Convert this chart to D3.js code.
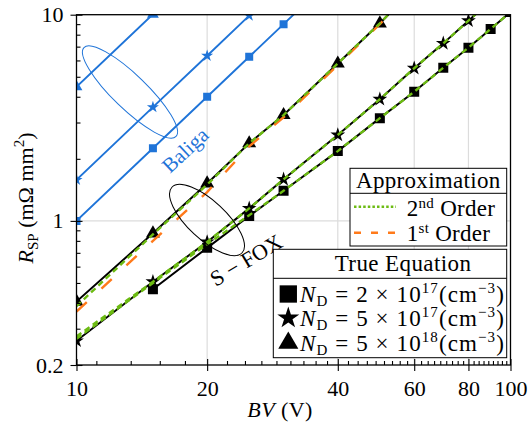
<!DOCTYPE html>
<html>
<head>
<meta charset="utf-8">
<script src="https://cdn.jsdelivr.net/npm/d3@7"></script>
<style>
body { margin: 0; background: #fff; }
text { font-family: "Liberation Serif", "Times New Roman", serif; }
</style>
</head>
<body>
<svg id="chart" width="529" height="431"></svg>
<script>
// breakdown voltage (V)
const bv = [10, 15, 20, 25, 30, 40, 50, 60, 70, 80, 90, 100];
const bvSq = [15, 20, 25, 30, 40, 50, 60, 70, 80, 90, 100];
// S-FOX, true equation (mOhm mm^2)
const true2e17 = [0.466, 0.74, 1.056, 1.40, 2.18, 3.15, 4.23, 5.53, 6.92, 8.52, 10.3];
const true5e17 = [0.262, 0.507, 0.79, 1.15, 1.59, 2.61, 3.89, 5.50, 7.26, 9.35, 11.7];
const true5e18 = [0.406, 0.87, 1.52, 2.38, 3.26, 5.80, 9.08, 13.5];
// 2nd order approximation
const ord2_2e17 = [0.268, 0.50, 0.77, 1.065, 1.40, 2.18, 3.15, 4.23, 5.53, 6.92, 8.52, 10.3];
const ord2_5e17 = [0.275, 0.507, 0.79, 1.15, 1.59, 2.61, 3.89, 5.50, 7.26, 9.35, 11.7];
const ord2_5e18 = [0.386, 0.86, 1.50, 2.38, 3.26, 5.80, 9.08, 13.5];
// 1st order approximation
const ord1_5e18 = [0.363, 0.80, 1.38, 2.30, 3.18, 5.70, 9.0, 13.4];
// Baliga
const bvBaliga = [10, 15, 20, 25, 30, 35];
const baliga2e17 = [1.0, 2.25, 4.0, 6.25, 9.0, 12.25];
const baliga5e17 = [1.58, 3.56, 6.32, 9.9, 14.2];
const baliga5e18 = [4.47, 10.05, 17.9];

const xMajor = [10, 20, 40, 60, 80, 100];
const xLabels = ['10', '20', '40', '60', '80', '100'];
const yMajor = [0.2, 1, 10];
const yLabels = ['0.2', '1', '10'];
const yMinor = [0.3, 0.4, 0.5, 0.6, 0.7, 0.8, 0.9, 2, 3, 4, 5, 6, 7, 8, 9];
const xGrid = [20, 40, 60, 80];
const yGrid = [1];
const ndMant = ['2', '5', '5'];
const ndExp = ['17', '17', '18'];

const xMinor = d3.range(-4, 37).map(k => 20 + k * 20 / 9)
  .filter(v => v > 10 && !xMajor.some(m => Math.abs(m - v) < 0.01));

const blue = '#1f74d8', green = '#6cbb12', orange = '#ff7a1a';

const svg = d3.select('#chart');
const x = d3.scaleLog().domain([10, 100]).range([76.5, 510.5]);
const y = d3.scaleLog().domain([0.2, 10]).range([365, 14.7]);

svg.append('defs').append('clipPath').attr('id', 'clip')
  .append('rect')
  .attr('x', x(10)).attr('y', y(10))
  .attr('width', x(100) - x(10)).attr('height', y(0.2) - y(10));

// grid
const grid = svg.append('g').attr('stroke', '#dcdcdc').attr('stroke-width', 1.2);
grid.selectAll('line.gx').data(xGrid).join('line').attr('class', 'gx')
  .attr('x1', d => x(d)).attr('x2', d => x(d))
  .attr('y1', y(0.2)).attr('y2', y(10));
grid.selectAll('line.gy').data(yGrid).join('line').attr('class', 'gy')
  .attr('x1', x(10)).attr('x2', x(100))
  .attr('y1', d => y(d)).attr('y2', d => y(d));

const plot = svg.append('g').attr('clip-path', 'url(#clip)');

function path(vals, xs, color, width, dash) {
  const line = d3.line().x((d, i) => x(xs[i])).y(d => y(d));
  plot.append('path').datum(vals)
    .attr('d', line)
    .attr('fill', 'none')
    .attr('stroke', color)
    .attr('stroke-width', width)
    .attr('stroke-dasharray', dash || null);
}
function marks(vals, xs, type, size, color) {
  plot.append('g').selectAll('path').data(vals).join('path')
    .attr('transform', (d, i) => `translate(${x(xs[i])},${y(d)})`)
    .attr('d', d3.symbol().type(type).size(size))
    .attr('fill', color);
}

// Baliga
path(baliga2e17, bvBaliga, blue, 1.9);
path(baliga5e17, bvBaliga, blue, 1.9);
path(baliga5e18, bvBaliga, blue, 1.9);
marks(baliga2e17, bvBaliga, d3.symbolSquare, 64, blue);
marks(baliga5e17, bvBaliga, d3.symbolStar, 45, blue);
marks(baliga5e18, bvBaliga, d3.symbolTriangle, 60, blue);

// true equation
path(true2e17, bvSq, '#000', 2);
path(true5e17, bv, '#000', 2);
path(true5e18, bv, '#000', 2);
marks(true2e17, bvSq, d3.symbolSquare, 100, '#000');
marks(true5e17, bv, d3.symbolStar, 68, '#000');
marks(true5e18, bv, d3.symbolTriangle, 85, '#000');

// approximations
path(ord1_5e18, bv, orange, 2.4, '14,20');
path(ord2_2e17, bv, green, 2.4, '6,4');
path(ord2_5e17, bv, green, 2.4, '6,4');
path(ord2_5e18, bv, green, 2.4, '6,4');

// annotations
svg.append('ellipse')
  .attr('transform', 'translate(130,92) rotate(44)')
  .attr('rx', 64).attr('ry', 17)
  .attr('fill', 'none').attr('stroke', blue).attr('stroke-width', 1);
svg.append('text')
  .attr('transform', 'translate(185,150) rotate(-43)')
  .attr('text-anchor', 'middle').attr('dy', '0.35em')
  .attr('font-size', 21).attr('fill', blue)
  .text('Baliga');
svg.append('ellipse')
  .attr('transform', 'translate(207,220) rotate(43)')
  .attr('rx', 48).attr('ry', 19)
  .attr('fill', 'none').attr('stroke', '#000').attr('stroke-width', 1);
svg.append('text')
  .attr('transform', 'translate(246,260) rotate(-31)')
  .attr('text-anchor', 'middle').attr('dy', '0.35em')
  .attr('font-size', 22)
  .text('S − FOX');

// frame
svg.append('rect')
  .attr('x', x(10)).attr('y', y(10))
  .attr('width', x(100) - x(10)).attr('height', y(0.2) - y(10))
  .attr('fill', 'none').attr('stroke', '#000').attr('stroke-width', 1.3);

// axes
function style(g) {
  g.attr('font-family', null).attr('font-size', 22);
  g.select('.domain').remove();
  g.selectAll('.tick line').attr('stroke', '#000').attr('stroke-width', 1.1);
  g.selectAll('.tick text').attr('fill', '#000');
}
const fx = d => xLabels[xMajor.indexOf(d)];
const fy = d => yLabels[yMajor.indexOf(d)];
svg.append('g').attr('transform', `translate(0,${y(0.2)})`)
  .call(d3.axisBottom(x).tickValues(xMajor).tickFormat(fx).tickSize(6).tickPadding(9)).call(style);
svg.append('g').attr('transform', `translate(0,${y(0.2)})`)
  .call(d3.axisTop(x).tickValues(xMajor).tickFormat('').tickSize(6)).call(style);
svg.append('g').attr('transform', `translate(0,${y(0.2)})`)
  .call(d3.axisTop(x).tickValues(xMinor).tickFormat('').tickSize(4)).call(style);
svg.append('g').attr('transform', `translate(${x(10)},0)`)
  .call(d3.axisLeft(y).tickValues(yMajor).tickFormat(fy).tickSize(6).tickPadding(7)).call(style);
svg.append('g').attr('transform', `translate(${x(10)},0)`)
  .call(d3.axisRight(y).tickValues(yMajor).tickFormat('').tickSize(6)).call(style);
svg.append('g').attr('transform', `translate(${x(10)},0)`)
  .call(d3.axisRight(y).tickValues(yMinor).tickFormat('').tickSize(4)).call(style);

// axis titles
const xt = svg.append('text').attr('x', 280).attr('y', 417)
  .attr('text-anchor', 'middle').attr('font-size', 22).attr('letter-spacing', 0.4);
xt.append('tspan').attr('font-style', 'italic').text('BV');
xt.append('tspan').text(' (V)');

const yt = svg.append('text').attr('transform', 'translate(33,198) rotate(-90)')
  .attr('text-anchor', 'middle').attr('font-size', 22);
yt.append('tspan').attr('font-style', 'italic').text('R');
yt.append('tspan').attr('font-size', 15).attr('dy', 5).text('SP');
yt.append('tspan').attr('dy', -5).text(' (mΩ mm');
yt.append('tspan').attr('font-size', 15).attr('dy', -9).text('2');
yt.append('tspan').attr('dy', 9).text(')');

// legend: approximation
const l1 = svg.append('g');
l1.append('rect').attr('x', 350).attr('y', 168.3).attr('width', 156.7).attr('height', 77.7)
  .attr('fill', '#fff').attr('stroke', '#000').attr('stroke-width', 1);
l1.append('line').attr('x1', 350).attr('x2', 506.7).attr('y1', 193.3).attr('y2', 193.3)
  .attr('stroke', '#000').attr('stroke-width', 1);
l1.append('text').attr('x', 428.3).attr('y', 187.5).attr('text-anchor', 'middle')
  .attr('font-size', 23).attr('letter-spacing', 0.3).text('Approximation');
l1.append('line').attr('x1', 354).attr('x2', 396).attr('y1', 206.7).attr('y2', 206.7)
  .attr('stroke', green).attr('stroke-width', 2.4).attr('stroke-dasharray', '2.5,2.1');
l1.append('line').attr('x1', 354).attr('x2', 395).attr('y1', 232.7).attr('y2', 232.7)
  .attr('stroke', orange).attr('stroke-width', 2.4).attr('stroke-dasharray', '7,10');
const t2 = l1.append('text').attr('x', 406.7).attr('y', 216).attr('font-size', 23)
  .attr('letter-spacing', 0.3);
t2.append('tspan').text('2');
t2.append('tspan').attr('font-size', 15).attr('dy', -8).text('nd');
t2.append('tspan').attr('dy', 8).text(' Order');
const t1 = l1.append('text').attr('x', 406.7).attr('y', 241).attr('font-size', 23)
  .attr('letter-spacing', 0.3);
t1.append('tspan').text('1');
t1.append('tspan').attr('font-size', 15).attr('dy', -8).text('st');
t1.append('tspan').attr('dy', 8).text(' Order');

// legend: true equation
const l2 = svg.append('g');
l2.append('rect').attr('x', 273.3).attr('y', 249.3).attr('width', 233.4).attr('height', 108.4)
  .attr('fill', '#fff').attr('stroke', '#000').attr('stroke-width', 1);
l2.append('line').attr('x1', 273.3).attr('x2', 506.7).attr('y1', 278.3).attr('y2', 278.3)
  .attr('stroke', '#000').attr('stroke-width', 1);
l2.append('text').attr('x', 403).attr('y', 270.5).attr('text-anchor', 'middle')
  .attr('font-size', 23).attr('letter-spacing', 0.4).text('True Equation');
const legTypes = [d3.symbolSquare, d3.symbolStar, d3.symbolTriangle];
const legSizes = [300, 150, 175];
const legY = [294, 318, 343];
legTypes.forEach((t, i) => {
  l2.append('path').attr('transform', `translate(288.3,${legY[i]})`)
    .attr('d', d3.symbol().type(t).size(legSizes[i])).attr('fill', '#000');
  const tx = l2.append('text').attr('x', 300).attr('y', legY[i] + 7.5).attr('font-size', 23)
    .attr('letter-spacing', 1.1);
  tx.append('tspan').attr('font-style', 'italic').text('N');
  tx.append('tspan').attr('font-size', 15).attr('dy', 4).text('D');
  tx.append('tspan').attr('dy', -4).text(` = ${ndMant[i]} × 10`);
  tx.append('tspan').attr('font-size', 15).attr('dy', -9).text(ndExp[i]);
  tx.append('tspan').attr('dy', 9).text('(cm');
  tx.append('tspan').attr('font-size', 15).attr('dy', -9).text('−3');
  tx.append('tspan').attr('dy', 9).text(')');
});
</script>
</body>
</html>
